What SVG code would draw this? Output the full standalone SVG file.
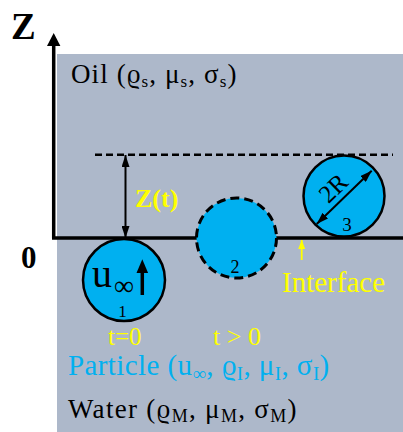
<svg xmlns="http://www.w3.org/2000/svg" width="403" height="432" viewBox="0 0 403 432">
<style>
.serif{font-family:"Liberation Serif","DejaVu Serif",serif;}
.bold{font-weight:bold;}
.yel{fill:#ffff00;}
.cyan{fill:#00b0f0;}
.blk{fill:#000;}
.part{fill:#00b0f0;stroke:#000;stroke-width:2.5;}
.ln{stroke:#000;fill:none;}
</style>
<defs>
<marker id="ah" viewBox="0 0 12 8" refX="12" refY="4" markerWidth="12" markerHeight="8" markerUnits="userSpaceOnUse" orient="auto-start-reverse">
<path d="M0,0 L12,4 L0,8 Z" fill="#000"/>
</marker>
<marker id="ahy" viewBox="0 0 9 7" refX="9" refY="3.5" markerWidth="9" markerHeight="7" markerUnits="userSpaceOnUse" orient="auto">
<path d="M0,0 L9,3.5 L0,7 Z" fill="#ffff00"/>
</marker>
</defs>
<rect id="background" x="57" y="54" width="346" height="378" fill="#adb8ca"/>
<g id="axes">
<line x1="53.7" y1="238" x2="53.7" y2="44" stroke="#000" stroke-width="3.5"/>
<polygon points="53.7,33 47,46 60.4,46" fill="#000"/>
<line x1="52" y1="238" x2="403" y2="238" stroke="#000" stroke-width="3.5"/>
<text class="serif bold blk" x="11" y="39" font-size="37">Z</text>
<text class="serif bold blk" x="21" y="268" font-size="31">0</text>
</g>
<g id="particle2">
<circle cx="236.5" cy="238" r="40" fill="#00b0f0" stroke="#000" stroke-width="3" stroke-dasharray="9 5"/>
<text class="serif blk" x="235" y="272.7" font-size="18" text-anchor="middle">2</text>
</g>
<g id="particle1">
<circle class="part" cx="124" cy="280" r="41"/>
<text class="serif blk" x="92" y="287" font-size="40">u</text>
<text class="serif blk" x="114" y="295" font-size="28">∞</text>
<line x1="142.3" y1="295" x2="142.3" y2="270" stroke="#000" stroke-width="3.5"/>
<polygon points="142.3,259.3 136.5,273 148.1,273" fill="#000"/>
<text class="serif blk" x="122.5" y="317" font-size="17" text-anchor="middle">1</text>
</g>
<g id="particle3">
<circle class="part" cx="344" cy="196" r="40.5"/>
<text class="serif blk" x="347" y="231" font-size="19" text-anchor="middle">3</text>
<text class="serif blk" x="339" y="194" font-size="25" text-anchor="middle" transform="rotate(-44 339 194)">2R</text>
</g>
<g id="connectors">
<line x1="95" y1="154.7" x2="393" y2="154.7" stroke="#000" stroke-width="2.5" stroke-dasharray="7 4"/>
<line x1="125.5" y1="155" x2="125.5" y2="238" class="ln" stroke-width="2" marker-start="url(#ah)" marker-end="url(#ah)"/>
<line x1="316.7" y1="224" x2="371.7" y2="170.7" class="ln" stroke-width="2" marker-start="url(#ah)" marker-end="url(#ah)"/>
<line x1="301.7" y1="260" x2="301.7" y2="240" stroke="#ffff00" stroke-width="1.8" marker-end="url(#ahy)"/>
</g>
<g id="labels">
<text class="serif blk" x="71" y="83" font-size="27" letter-spacing="1.1">Oil (ϱ<tspan font-size="17" dy="4">s</tspan><tspan dy="-4">, μ</tspan><tspan font-size="17" dy="4">s</tspan><tspan dy="-4">, σ</tspan><tspan font-size="17" dy="4">s</tspan><tspan dy="-4">)</tspan></text>
<text class="serif bold yel" x="135" y="207" font-size="26">Z(t)</text>
<text class="serif yel" x="282" y="291.7" font-size="29">Interface</text>
<text class="serif yel" x="108" y="345" font-size="25">t=0</text>
<text class="serif yel" x="213" y="345" font-size="26">t &gt; 0</text>
<text class="serif cyan" x="68" y="375" font-size="29" letter-spacing="0.4">Particle (u<tspan font-size="19" dy="5">∞</tspan><tspan dy="-5">, ϱ</tspan><tspan font-size="19" dy="5">I</tspan><tspan dy="-5">, μ</tspan><tspan font-size="19" dy="5">I</tspan><tspan dy="-5">, σ</tspan><tspan font-size="19" dy="5">I</tspan><tspan dy="-5">)</tspan></text>
<text class="serif blk" x="68" y="418" font-size="27" letter-spacing="1.3">Water (ϱ<tspan font-size="18" dy="4">M</tspan><tspan dy="-4">, μ</tspan><tspan font-size="18" dy="4">M</tspan><tspan dy="-4">, σ</tspan><tspan font-size="18" dy="4">M</tspan><tspan dy="-4">)</tspan></text>
</g>
</svg>
